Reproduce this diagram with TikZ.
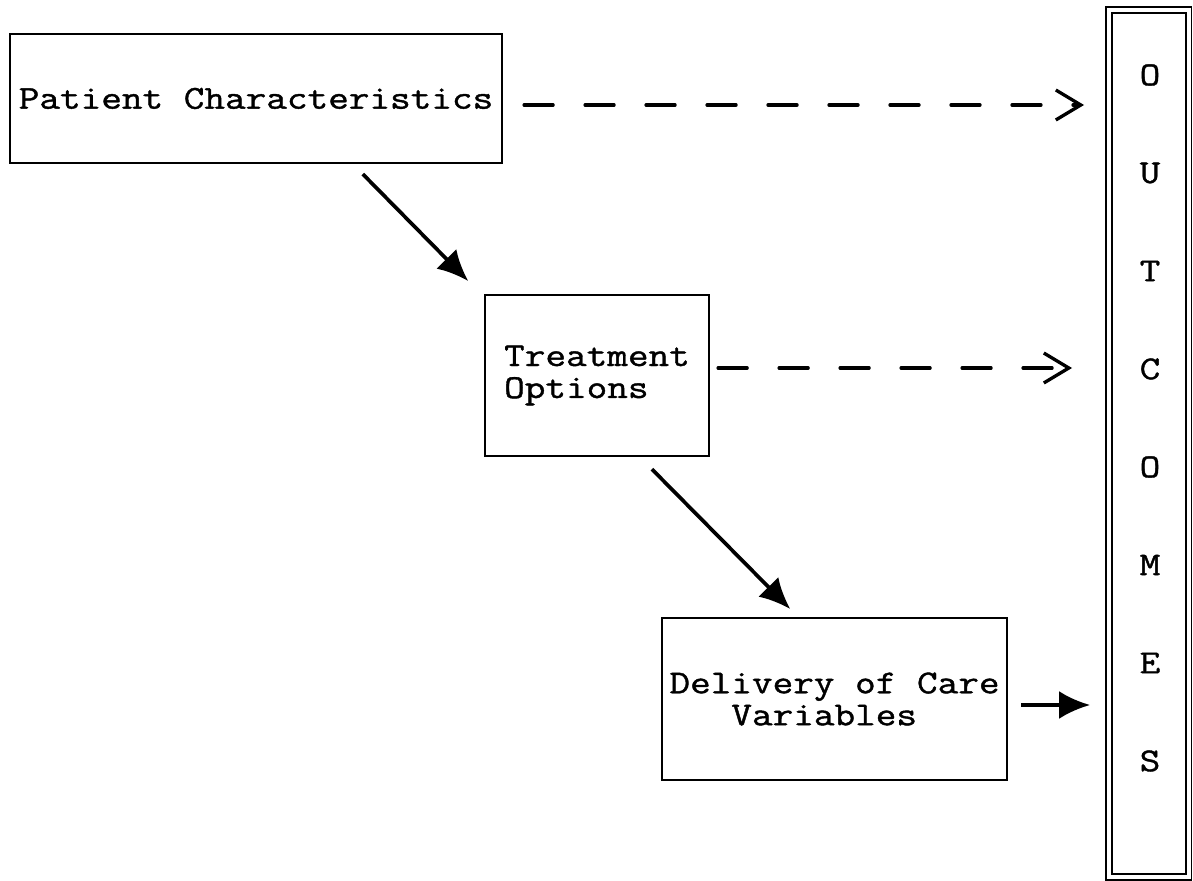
\documentclass[tikz,border=0pt]{standalone}
\usepackage{fontspec}
\setmonofont{Latin Modern Mono}[FakeStretch=1.2, FakeBold=1.2]
\usepackage{tikz}
\usetikzlibrary{arrows.meta, positioning, calc}

\begin{document}
\begin{tikzpicture}[>=Stealth, x=0.02cm, y=-0.02cm, line width=1.4pt]

% --- Style Definitions ---
% Factor boxes
\tikzstyle{factor_box}=[rectangle, draw=black, line width=1.3pt, font=\ttfamily\fontsize{19}{18.2}\selectfont]
% Outcomes column
\tikzstyle{outcome_box}=[rectangle, draw=black, line width=1.1pt, double, double distance=0.08cm]
\tikzstyle{outcome_letter}=[font=\ttfamily\fontsize{19}{18.2}\selectfont]

% Arrow Styles
\tikzstyle{path_arrow}=[-{Latex[length=0.62cm, width=0.56cm]}, line width=2.1pt]
\tikzstyle{effect_arrow}=[-{Straight Barb[length=0.5cm, width=0.6cm]}, line width=1.9pt, line cap=round, dash pattern=on 0.58cm off 0.64cm]

\useasboundingbox (0,0) rectangle (1193,881);

% --- Define Nodes ---
\node[factor_box, minimum width=9.84cm, minimum height=2.58cm] (patient) at (256,98.5) {Patient Characteristics};
\node[factor_box, minimum width=4.48cm, minimum height=3.22cm, align=left] (treatment) at (597,375.5) {Treatment\\Options};
\node[factor_box, minimum width=6.9cm, minimum height=3.24cm, align=left] (delivery) at (834.5,699) {Delivery of Care\\\phantom{Del}Variables};

% Outcomes, spelt down the column
\node[outcome_box, minimum width=1.59cm, minimum height=17.35cm] (outcomes) at (1148.75,443.75) {};
\foreach \ch [count=\i] in {O,U,T,C,O,M,E,S}
  \node[outcome_letter] (letter\i) at (1150,{75+98*(\i-1)}) {\ch};

% --- Draw Connections ---

% 1. Causal chain (solid)
\draw[path_arrow, shorten <=0.28cm, shorten >=0.36cm] ([xshift=1.94cm]patient.south) -- ([xshift=-0.06cm]treatment.north west);
\draw[path_arrow, shorten <=0.34cm, shorten >=0.22cm] ([xshift=0.86cm]treatment.south) -- ([xshift=-0.73cm]delivery.north);
\draw[path_arrow, shorten <=0.26cm, shorten >=0.36cm] ([yshift=-0.12cm]delivery.east) -- ([yshift=-0.12cm]delivery.east -| outcomes.west);

% 2. Effects on outcomes (dashed)
\draw[effect_arrow, shorten <=0.42cm, shorten >=0.48cm] ([yshift=-0.13cm]patient.east) -- ([yshift=-0.13cm]patient.east -| outcomes.west);
\draw[effect_arrow, shorten <=0.16cm, shorten >=0.72cm] ([yshift=0.15cm]treatment.east) -- ([yshift=0.15cm]treatment.east -| outcomes.west);

\end{tikzpicture}
\end{document}
